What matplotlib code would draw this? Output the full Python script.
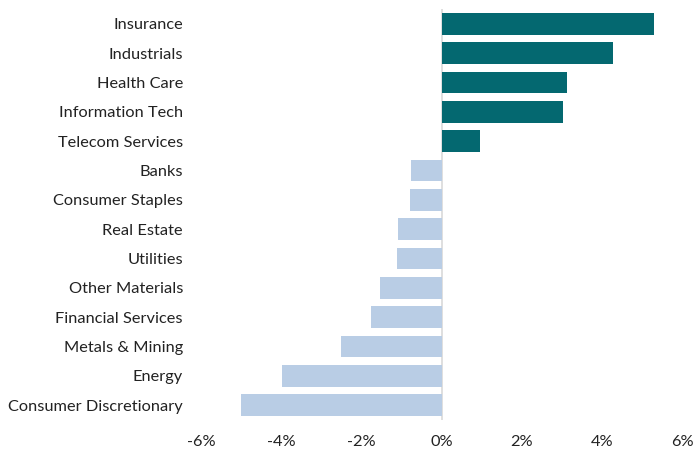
import matplotlib.pyplot as plt
from matplotlib.ticker import FuncFormatter

sectors = ["Insurance", "Industrials", "Health Care", "Information Tech",
           "Telecom Services", "Banks", "Consumer Staples", "Real Estate",
           "Utilities", "Other Materials", "Financial Services",
           "Metals & Mining", "Energy", "Consumer Discretionary"]
values = [5.29, 4.29, 3.13, 3.04, 0.97, -0.77, -0.78, -1.09, -1.12,
          -1.53, -1.76, -2.51, -3.97, -5.01]

pos_color = "#046870"
neg_color = "#B9CDE5"
colors = [pos_color if v > 0 else neg_color for v in values]

plt.rcParams['font.family'] = ['Lato', 'DejaVu Sans']

fig = plt.figure(figsize=(6.94, 4.5), dpi=100)
ax = fig.add_axes([201 / 694, 30 / 450, 481 / 694, 411 / 450])

y = list(range(len(sectors)))
ax.barh(y, values, height=0.74, color=colors, zorder=2)
ax.axvline(0, color="#D9D9D9", lw=1.2, zorder=1)

ax.set_ylim(len(sectors) - 0.5, -0.5)
ax.set_xlim(-6, 6)
ax.set_yticks(y)
ax.set_yticklabels(sectors, fontsize=11.8, color="#222222")
ax.set_xticks([-6, -4, -2, 0, 2, 4, 6])
ax.xaxis.set_major_formatter(FuncFormatter(lambda v, p: f"{v:.0f}%"))
ax.tick_params(axis='x', labelsize=11.8, length=0, pad=11, colors="#222222")
ax.tick_params(axis='y', length=0, pad=13)
for s in ax.spines.values():
    s.set_visible(False)

fig.savefig("out.png", dpi=100)
